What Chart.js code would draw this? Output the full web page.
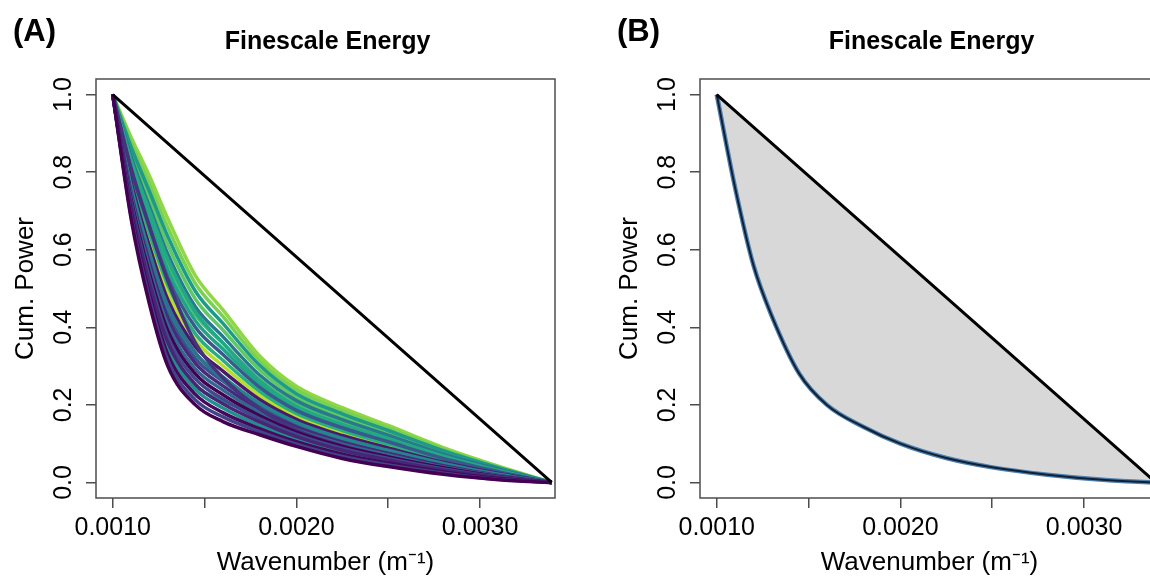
<!DOCTYPE html>
<html>
<head>
<meta charset="utf-8">
<script src="https://cdn.jsdelivr.net/npm/chart.js@4.4.1/dist/chart.umd.min.js"></script>
<style>
	html, body { margin: 0; padding: 0; background: #fff; }
	body { width: 1150px; height: 579px; overflow: hidden; position: relative; }
	canvas { position: absolute; top: 0; }
	#graphA { left: 0; }
	#graphB { left: 604px; }
</style>
</head>
<body>
<canvas id="graphA" width="575" height="579"></canvas>
<canvas id="graphB" width="575" height="579"></canvas>
<script>
// axes et graduations
const xTicks = [0.0010, 0.0015, 0.0020, 0.0025, 0.0030];
const xTickLabels = ["0.0010", "", "0.0020", "", "0.0030"];
const yTicks = [0.0, 0.2, 0.4, 0.6, 0.8, 1.0];
const xMin = 0.000909, xMax = 0.003408;
const yMin = -0.04, yMax = 1.04;

// nombres d'onde communs à toutes les courbes
const nombreOnde = [0.00100, 0.00110, 0.00120, 0.00130, 0.00145, 0.00160, 0.00180, 0.00200, 0.00225, 0.00250, 0.00280, 0.00310, 0.00339];

// diagonale de référence
const diagX = [0.00100, 0.00339];
const diagY = [1, 0];

// (A) puissance cumulée de chaque profil
const c01 = [1, 0.680, 0.460, 0.300, 0.200, 0.157, 0.123, 0.093, 0.062, 0.041, 0.021, 0.007, 0];
const c02 = [1, 0.688, 0.473, 0.315, 0.213, 0.169, 0.131, 0.099, 0.067, 0.045, 0.024, 0.008, 0];
const c03 = [1, 0.697, 0.486, 0.330, 0.227, 0.180, 0.139, 0.105, 0.073, 0.050, 0.027, 0.010, 0];
const c04 = [1, 0.705, 0.500, 0.346, 0.240, 0.192, 0.147, 0.112, 0.078, 0.054, 0.029, 0.011, 0];
const c05 = [1, 0.714, 0.513, 0.361, 0.253, 0.203, 0.156, 0.118, 0.083, 0.058, 0.032, 0.013, 0];
const c06 = [1, 0.722, 0.526, 0.376, 0.267, 0.215, 0.164, 0.124, 0.088, 0.062, 0.035, 0.014, 0];
const c07 = [1, 0.730, 0.539, 0.391, 0.280, 0.226, 0.172, 0.130, 0.093, 0.066, 0.038, 0.015, 0];
const c08 = [1, 0.739, 0.552, 0.406, 0.293, 0.238, 0.180, 0.136, 0.099, 0.071, 0.040, 0.017, 0];
const c09 = [1, 0.747, 0.566, 0.422, 0.307, 0.249, 0.188, 0.143, 0.104, 0.075, 0.043, 0.018, 0];
const c10 = [1, 0.756, 0.579, 0.437, 0.320, 0.261, 0.196, 0.149, 0.109, 0.079, 0.046, 0.020, 0];
const c11 = [1, 0.764, 0.592, 0.452, 0.333, 0.272, 0.204, 0.155, 0.114, 0.083, 0.049, 0.021, 0];
const c12 = [1, 0.775, 0.609, 0.471, 0.350, 0.287, 0.214, 0.163, 0.121, 0.089, 0.052, 0.023, 0];
const c13 = [1, 0.785, 0.625, 0.490, 0.367, 0.301, 0.225, 0.171, 0.128, 0.094, 0.056, 0.025, 0];
const c14 = [1, 0.796, 0.642, 0.509, 0.383, 0.315, 0.235, 0.178, 0.134, 0.099, 0.059, 0.026, 0];
const c15 = [1, 0.806, 0.658, 0.528, 0.400, 0.330, 0.245, 0.186, 0.141, 0.105, 0.062, 0.028, 0];
const c16 = [1, 0.817, 0.675, 0.547, 0.417, 0.344, 0.255, 0.194, 0.147, 0.110, 0.066, 0.030, 0];
const c17 = [1, 0.827, 0.691, 0.566, 0.433, 0.359, 0.265, 0.202, 0.154, 0.115, 0.069, 0.032, 0];
const c18 = [1, 0.840, 0.711, 0.589, 0.453, 0.376, 0.277, 0.211, 0.162, 0.122, 0.073, 0.034, 0];
const c19 = [1, 0.852, 0.731, 0.612, 0.473, 0.393, 0.290, 0.220, 0.169, 0.128, 0.078, 0.036, 0];
const c20 = [1, 0.865, 0.750, 0.634, 0.493, 0.410, 0.302, 0.229, 0.177, 0.134, 0.082, 0.038, 0];
const c21 = [1, 0.877, 0.770, 0.657, 0.513, 0.428, 0.314, 0.239, 0.185, 0.141, 0.086, 0.040, 0];
const c22 = [1, 0.890, 0.790, 0.680, 0.533, 0.445, 0.326, 0.248, 0.193, 0.147, 0.090, 0.042, 0];
const c23 = [1, 0.700, 0.495, 0.345, 0.250, 0.210, 0.175, 0.145, 0.115, 0.088, 0.055, 0.025, 0];
const c24 = [1, 0.810, 0.660, 0.520, 0.360, 0.270, 0.190, 0.135, 0.095, 0.066, 0.036, 0.016, 0];
const c25 = [1, 0.745, 0.585, 0.455, 0.335, 0.265, 0.190, 0.140, 0.100, 0.070, 0.040, 0.017, 0];
const c26 = [1, 0.830, 0.700, 0.575, 0.440, 0.360, 0.262, 0.196, 0.150, 0.113, 0.068, 0.031, 0];

// ordre de tracé et couleurs (viridis, mélangées comme dans la figure)
const courbes = [c13, c22, c21, c19, c17, c20, c16, c14, c18, c26, c23, c15, c10, c12, c11, c04, c25, c09, c08, c24, c07, c06, c05, c03, c02, c01];
const couleurs = ["#B8DE29", "#8FD744", "#7AD151", "#5EC962", "#44BF70", "#1F9A8A", "#20A486", "#28AE80", "#2A788E", "#22A884", "#1F9E89", "#38598C", "#3B528B", "#481A6C", "#25858E", "#21908D", "#2C728E", "#472A7A", "#31688E", "#46337E", "#440154", "#3E4A89", "#482576", "#46085C", "#414487", "#440154"];

// (B) profil moyen
const moyenne = [1, 0.760, 0.560, 0.429, 0.280, 0.200, 0.143, 0.100, 0.063, 0.039, 0.020, 0.007, 0];

const police = '"Liberation Sans", Arial, Helvetica, sans-serif';
Chart.defaults.font.family = police;
Chart.defaults.color = "#000";

const points = (xs, ys) => xs.map((x, i) => ({ x: x, y: ys[i] }));

// cadre, titre et lettre du panneau
const cadre = {
	id: "cadre",
	afterDraw(chart, args, opts) {
		const { ctx, chartArea: a } = chart;
		ctx.save();
		ctx.strokeStyle = "#4d4d4d";
		ctx.lineWidth = 1.5;
		ctx.strokeRect(a.left, a.top, a.right - a.left, a.bottom - a.top);
		ctx.fillStyle = "#000";
		ctx.textBaseline = "alphabetic";
		ctx.font = "bold 25px " + police;
		ctx.textAlign = "center";
		ctx.fillText(opts.titre, (a.left + a.right) / 2 + 2, 49);
		ctx.font = "bold 31px " + police;
		ctx.textAlign = "left";
		ctx.fillText(opts.lettre, 13, 41);
		ctx.restore();
	},
};

const echelles = () => ({
	x: {
		type: "linear",
		min: xMin,
		max: xMax,
		afterBuildTicks: (s) => { s.ticks = xTicks.map((v) => ({ value: v })); },
		afterFit: (s) => { s.height = 81; },
		ticks: {
			autoSkip: false,
			maxRotation: 0,
			padding: 5,
			font: { size: 25 },
			callback: (v, i) => xTickLabels[i],
		},
		grid: { drawOnChartArea: false, tickLength: 10, color: "#4d4d4d", lineWidth: 1.5 },
		border: { display: false },
		title: { display: true, text: "Wavenumber (m⁻¹)", font: { size: 26 }, padding: { top: 0, bottom: 1 } },
	},
	y: {
		type: "linear",
		min: yMin,
		max: yMax,
		afterBuildTicks: (s) => { s.ticks = yTicks.map((v) => ({ value: v })); },
		afterFit: (s) => { s.width = 96; },
		ticks: {
			autoSkip: false,
			minRotation: 90,
			maxRotation: 90,
			crossAlign: "center",
			padding: 5,
			font: { size: 25 },
			callback: (v) => v.toFixed(1),
		},
		grid: { drawOnChartArea: false, tickLength: 10, color: "#4d4d4d", lineWidth: 1.5 },
		border: { display: false },
		title: { display: true, text: "Cum. Power", font: { size: 26 }, padding: { top: 10 } },
	},
});

const optionsBase = (lettre) => ({
	responsive: false,
	animation: false,
	devicePixelRatio: 1,
	layout: { padding: { top: 79, right: 20, left: 0, bottom: 0 } },
	elements: { point: { radius: 0 }, line: { cubicInterpolationMode: "monotone" } },
	plugins: {
		legend: { display: false },
		tooltip: { enabled: false },
		cadre: { titre: "Finescale Energy", lettre: lettre },
	},
	scales: echelles(),
});

window.addEventListener("load", () => {
	// panneau A : toutes les courbes
	const jeuxA = [
		{
			data: points(diagX, diagY),
			borderColor: "#000",
			borderWidth: 3,
			fill: false,
			order: 0,
		},
	];
	courbes.forEach((c, i) => {
		jeuxA.push({
			data: points(nombreOnde, c),
			borderColor: couleurs[i],
			borderWidth: 3.5,
			fill: false,
			order: courbes.length - i,
		});
	});
	new Chart(document.querySelector("#graphA"), {
		type: "line",
		data: { datasets: jeuxA },
		options: optionsBase("(A)"),
		plugins: [cadre],
	});

	// panneau B : moyenne et surface grise
	new Chart(document.querySelector("#graphB"), {
		type: "line",
		data: {
			datasets: [
				{
					data: points(diagX, diagY),
					borderColor: "#000",
					borderWidth: 3,
					fill: false,
				},
				{
					data: points(nombreOnde, moyenne),
					borderColor: "#0F2136",
					borderWidth: 2,
					fill: false,
				},
				{
					data: points(nombreOnde, moyenne),
					borderColor: "#4E7FAE",
					borderWidth: 4.5,
					backgroundColor: "#D8D8D8",
					fill: { target: 0 },
				},
			],
		},
		options: optionsBase("(B)"),
		plugins: [cadre],
	});
});
</script>
</body>
</html>
